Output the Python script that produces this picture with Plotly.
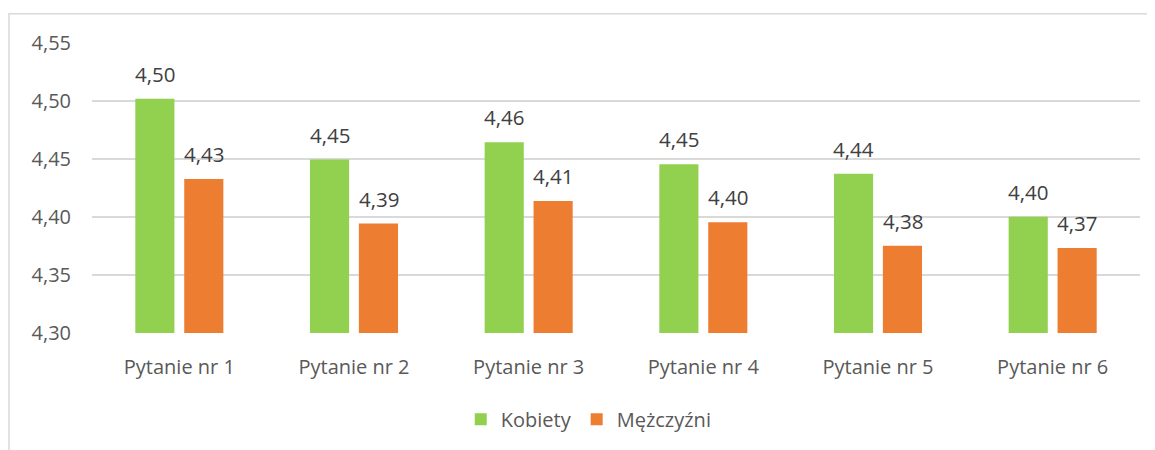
import plotly.graph_objects as go

categories = ["Pytanie nr 1", "Pytanie nr 2", "Pytanie nr 3", "Pytanie nr 4", "Pytanie nr 5", "Pytanie nr 6"]
kobiety = [4.502, 4.4495, 4.4645, 4.4454, 4.4372, 4.4003]
mezczyzni = [4.4327, 4.3943, 4.4139, 4.3955, 4.3752, 4.3733]
y_ticks = [4.30, 4.35, 4.40, 4.45, 4.50, 4.55]
y_tick_labels = ["4,30", "4,35", "4,40", "4,45", "4,50", "4,55"]

GREEN = "#92D050"
ORANGE = "#ED7D31"
FONT = "Open Sans"

fig = go.Figure()
fig.add_trace(go.Bar(name="Kobiety", x=categories, y=kobiety, marker_color=GREEN,
                     marker_line_width=0))
fig.add_trace(go.Bar(name="Mężczyźni", x=categories, y=mezczyzni, marker_color=ORANGE,
                     marker_line_width=0))

def fmt(v):
    return f"{v:.2f}".replace(".", ",")

for vals, shift in ((kobiety, -24.5), (mezczyzni, 24.5)):
    for c, v in zip(categories, vals):
        fig.add_annotation(x=c, y=v, xref="x", yref="y", text=fmt(v), showarrow=False,
                           xshift=shift, yshift=25, yanchor="middle", xanchor="center",
                           font=dict(family=FONT, size=20.5, color="#404040"))

fig.add_shape(type="rect", xref="paper", yref="paper",
              x0=-0.0792, x1=1.2, y0=-0.6, y1=1.101,
              line=dict(color="#d9d9d9", width=1.5), fillcolor="rgba(0,0,0,0)", layer="below")

fig.update_layout(
    width=1147, height=442,
    margin=dict(l=84, r=15, t=35, b=112),
    paper_bgcolor="white", plot_bgcolor="white",
    barmode="group", bargap=0.44, bargroupgap=0.2,
    font=dict(family=FONT, size=20, color="#595959"),
    showlegend=True,
    legend=dict(orientation="h", x=0.474, xanchor="center", y=-0.297, yanchor="middle",
                font=dict(family=FONT, size=20, color="#595959"), itemwidth=30,
                traceorder="normal"),
    xaxis=dict(showgrid=False, showline=False, ticks="", ticklabelstandoff=20,
               tickfont=dict(family=FONT, size=20, color="#595959")),
    yaxis=dict(range=[4.30, 4.55], tickvals=y_ticks, ticktext=y_tick_labels,
               showgrid=True, gridcolor="#d9d9d9", gridwidth=1.5, zeroline=False,
               showline=False, ticks="", ticklabelstandoff=20,
               tickfont=dict(family=FONT, size=20, color="#595959")),
)

fig.write_html("out.html")
